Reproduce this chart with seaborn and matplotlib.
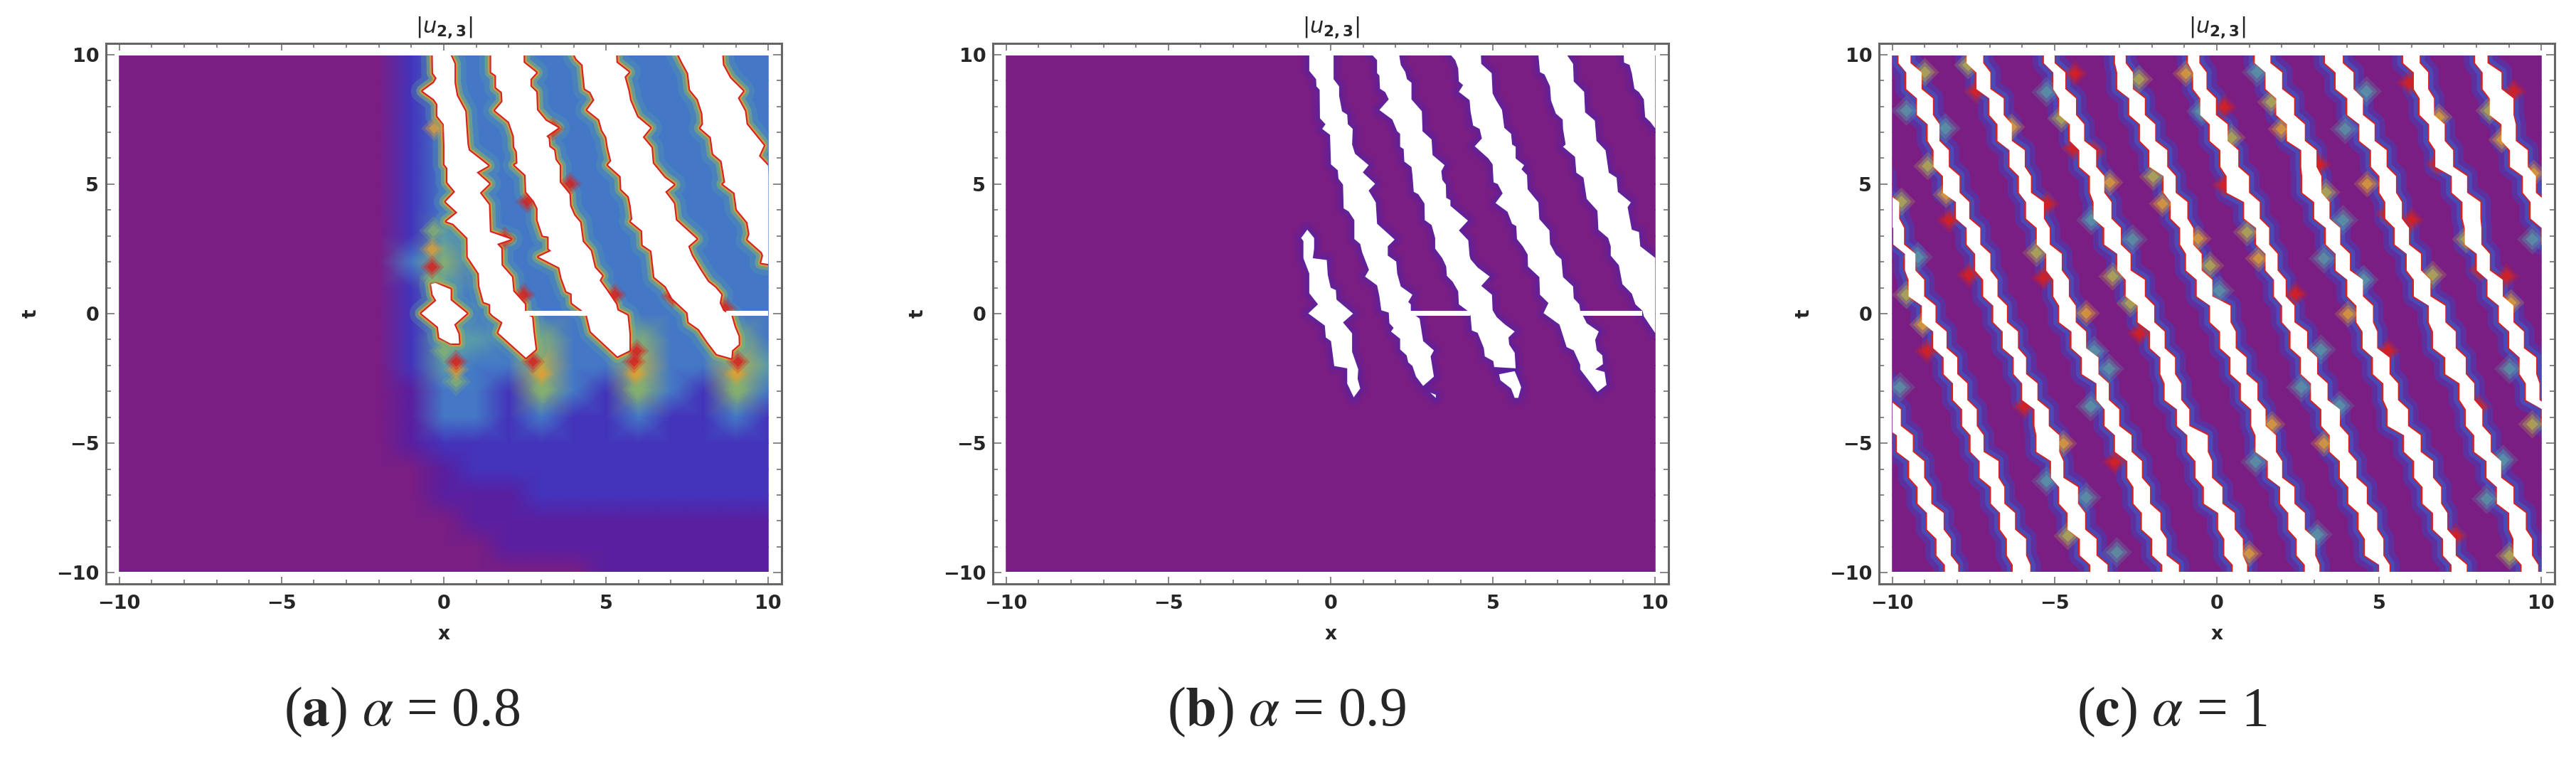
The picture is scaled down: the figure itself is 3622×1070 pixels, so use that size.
import numpy as np
import pandas as pd
import seaborn as sns
import matplotlib.pyplot as plt
from matplotlib.colors import LinearSegmentedColormap
from matplotlib.patches import Rectangle

# Colour levels of the density scale, purple up to red
level_colors = ["#7A1E84", "#5A1FA0", "#4234BC", "#4478C6", "#5A9BA8",
                "#86B070", "#B8B04C", "#E0A035", "#E0602A", "#D8201F"]

tick_values = [-10, -5, 0, 5, 10]
tick_labels = ["\u221210", "\u22125", "0", "5", "10"]

# Density levels on the grid t = 10..-10 (rows), x = -10..10 (columns)
field_a = ["000000000233333333333", "000000000233333333333", "000000000233333333333",
           "000000000233333333333", "000000000233333333333", "000000000233333333333",
           "000000000233333333333", "000000000243333333333", "000000000353333333333",
           "000000000243333333333", "000000000233333333333", "000000000244353353353",
           "000000000243363363364", "000000000133253253253", "000000000133232232232",
           "000000000122222222222", "000000000012222222222", "000000000011122222222",
           "000000000001111111111", "000000000000111111111", "000000000000000111111"]
field_flat = ["000000000000000000000"] * 21

# White gaps of panel a, (x, t) along their two sides
a1_left = [(-0.34, 10), (-0.33, 9.28), (-0.22, 9.09), (-0.30, 8.91), (-0.65, 8.59), (-0.30, 8.27),
           (-0.20, 8.09), (-0.20, 7.63), (0.0, 7.31), (0.02, 6.49), (0.02, 5.76), (0.11, 5.62),
           (0.11, 5.07), (0.35, 4.70), (0.06, 4.32), (0.42, 3.90), (0.08, 3.56), (0.29, 3.47),
           (0.73, 2.92), (0.74, 2.19), (1.08, 1.55), (1.10, 1.05), (1.23, 0.45), (1.43, 0.36),
           (1.43, 0.04), (1.51, -0.07), (1.81, -0.34), (1.68, -0.74), (2.53, -1.70)]
a1_right = [(0.20, 10), (0.33, 9.64), (0.33, 8.91), (0.40, 8.41), (0.66, 7.81), (0.69, 7.22),
            (0.73, 6.53), (0.77, 6.30), (1.37, 5.71), (1.01, 5.45), (1.40, 5.01), (1.11, 4.66),
            (1.39, 4.20), (1.42, 3.15), (2.06, 2.87), (1.64, 2.69), (1.77, 2.51), (1.78, 1.87),
            (2.10, 1.41), (2.14, 0.86), (2.50, 0.36), (2.50, 0.10), (2.61, -0.07), (2.72, -0.14),
            (2.76, -0.69), (2.83, -1.38)]
a2_left = [(1.46, 10), (1.46, 9.32), (1.61, 9.19), (1.61, 8.73), (1.79, 8.55), (1.81, 8.18),
           (1.58, 7.84), (2.01, 7.40), (2.16, 6.85), (2.17, 6.44), (2.25, 6.26), (2.27, 5.80),
           (2.18, 5.74), (2.52, 5.35), (2.54, 4.70), (2.78, 4.34), (2.89, 4.06), (2.89, 3.61),
           (3.05, 3.01), (3.23, 2.97), (3.23, 2.51), (3.31, 2.42), (2.92, 2.19), (3.56, 1.78),
           (3.63, 1.37), (3.78, 0.86), (3.94, 0.77), (3.95, 0.41), (4.25, 0.13), (4.41, -0.07),
           (4.53, -0.69), (5.35, -1.65)]
a2_right = [(2.46, 10), (2.46, 9.69), (2.85, 9.30), (2.67, 9.05), (2.67, 8.77), (2.85, 8.55),
            (2.87, 7.86), (3.14, 7.45), (3.52, 7.17), (3.16, 6.85), (3.23, 6.76), (3.25, 6.44),
            (3.40, 6.30), (3.44, 5.94), (3.57, 5.71), (3.57, 5.07), (3.87, 4.61), (3.89, 4.16),
            (4.02, 3.79), (4.20, 3.52), (4.28, 2.78), (4.53, 2.42), (4.65, 1.78), (4.88, 1.46),
            (4.80, 1.28), (5.04, 0.86), (5.31, 0.36), (5.35, 0.13), (5.66, -0.07), (5.72, -0.78),
            (5.72, -1.42)]
a3_left = [(4.02, 10), (4.09, 9.83), (4.28, 9.60), (4.30, 9.28), (4.35, 8.68), (4.52, 8.55),
           (4.64, 8.24), (4.42, 7.86), (4.79, 7.49), (4.88, 7.08), (5.01, 6.81), (5.06, 6.40),
           (5.16, 5.89), (5.06, 5.74), (5.45, 5.30), (5.47, 4.80), (5.70, 4.52), (5.76, 4.16),
           (5.81, 3.65), (5.76, 3.56), (6.11, 3.20), (6.13, 2.65), (6.40, 2.42), (6.49, 1.41),
           (6.84, 1.05), (7.04, 0.59), (7.51, 0.04), (7.55, -0.33), (7.86, -0.60), (8.13, -1.10),
           (8.41, -1.56), (8.86, -1.72)]
a3_right = [(5.31, 10), (5.32, 9.69), (5.70, 9.32), (5.57, 9.14), (5.69, 8.59), (5.74, 8.23),
            (5.96, 7.59), (6.36, 7.17), (6.13, 6.81), (6.40, 6.40), (6.44, 5.80), (6.80, 5.25),
            (7.09, 4.98), (6.82, 4.70), (7.09, 4.25), (7.15, 3.61), (7.79, 2.88), (7.53, 2.60),
            (7.64, 2.24), (7.90, 1.69), (8.14, 1.23), (8.37, 1.00), (8.55, 0.73), (8.50, 0.41),
            (8.61, 0.11), (8.86, -0.07), (8.96, -0.51), (9.08, -0.87), (9.09, -1.19), (8.88, -1.42)]
a4_left = [(7.23, 10), (7.35, 9.69), (7.53, 9.28), (7.59, 8.64), (7.83, 8.27), (7.97, 7.72),
           (7.99, 7.31), (7.91, 7.16), (8.23, 6.81), (8.30, 6.17), (8.56, 5.89), (8.67, 5.07),
           (8.60, 5.00), (8.96, 4.66), (9.03, 4.02), (9.36, 3.52), (9.42, 3.06), (9.36, 2.86),
           (9.80, 2.37), (9.84, 2.24), (9.78, 1.96), (10, 1.92)]
a4_right = [(8.58, 10), (8.60, 9.60), (8.82, 9.09), (9.22, 8.59), (9.06, 8.32), (9.28, 7.81),
            (9.33, 7.31), (9.86, 6.49), (9.71, 6.08), (9.99, 5.71), (10, 5.30)]
a_hole_left = [(-0.26, 1.18), (-0.39, 1.14), (-0.34, 0.73), (-0.23, 0.50), (-0.69, 0.01),
               (-0.18, -0.51), (-0.14, -0.92), (0.21, -1.15)]
a_hole_right = [(-0.26, 1.18), (0.21, 0.94), (0.21, 0.52), (0.71, 0.01), (0.32, -0.42),
                (0.45, -0.78), (0.47, -1.15)]
a_gaps = [(a1_left, a1_right), (a2_left, a2_right), (a3_left, a3_right), (a4_left, a4_right),
          (a_hole_left, a_hole_right)]
a_strips = [(2.5, 4.4), (8.7, 10)]
a_hot_red_x = [-0.37, 0.37, 1.86, 2.56, 3.87, 3.36, 2.45, 5.27, 5.94, 7.04, 8.65, 2.75, 5.85, 9.05]
a_hot_red_t = [1.82, -1.83, 2.92, 4.34, 5.02, 7.13, 0.73, 0.73, -1.42, 0.68, 0.22, -1.85, -1.85, -1.85]
a_hot_orange_x = [-0.30, -0.37, 0.37, 3.0, 5.9, 9.0]
a_hot_orange_t = [7.17, 2.50, -2.15, -2.3, -2.3, -2.3]
a_hot_green_x = [-0.33, 0.37, 0.0, -0.33, 3.05, 5.95, 9.05]
a_hot_green_t = [3.20, -2.60, -1.42, 1.41, -2.9, -2.9, -2.9]

# White gaps of panel b
b0_left = [(-0.72, 3.24), (-0.91, 2.92), (-0.84, 2.80), (-0.84, 2.14), (-0.66, 1.55), (-0.66, 0.79),
           (-0.39, 0.36), (-0.69, 0.01), (-0.18, -0.46), (-0.15, -0.92), (0.01, -1.06), (0.11, -2.02),
           (0.51, -2.11), (0.51, -2.70), (0.71, -3.23)]
b0_right = [(-0.51, 2.92), (-0.51, 2.51), (-0.55, 2.14), (-0.12, 2.07), (-0.09, 1.50), (0.0, 1.00),
            (0.16, 0.91), (0.18, 0.54), (0.69, 0.0), (0.38, -0.34), (0.66, -0.76), (0.66, -1.47),
            (0.85, -2.15), (0.83, -2.52), (0.91, -2.89)]
b1_left = [(-0.66, 10), (-0.66, 9.37), (-0.45, 9.05), (-0.44, 8.77), (-0.34, 8.64), (-0.33, 7.54),
           (-0.16, 7.31), (-0.26, 7.13), (-0.02, 6.90), (0.01, 5.76), (0.22, 5.53), (0.24, 5.21),
           (0.38, 4.98), (0.40, 4.06), (0.55, 3.95), (0.73, 3.61), (0.73, 2.88), (0.91, 2.69),
           (0.97, 2.37), (1.18, 1.69), (1.06, 1.43), (1.43, 1.09), (1.50, 0.68), (1.56, 0.13),
           (1.79, 0.04), (1.81, -0.37), (1.94, -0.55), (1.86, -0.69), (2.14, -0.97), (2.14, -1.38),
           (2.34, -1.61), (2.39, -1.88), (2.52, -2.02), (2.63, -2.43), (2.85, -2.79)]
b1_right = [(0.09, 10), (0.09, 9.05), (0.26, 8.77), (0.26, 8.41), (0.35, 7.81), (0.51, 7.68),
            (0.53, 7.31), (0.68, 7.13), (0.66, 6.53), (0.75, 6.17), (1.17, 5.73), (0.99, 5.45),
            (1.37, 5.01), (1.17, 4.75), (1.39, 4.29), (1.43, 3.47), (1.97, 2.86), (1.76, 2.60),
            (1.76, 2.24), (2.02, 2.01), (2.05, 1.55), (2.16, 1.05), (2.52, 0.73), (2.39, 0.45),
            (2.47, 0.36), (2.47, 0.11), (2.61, -0.07), (2.74, -0.19), (2.85, -1.06), (3.18, -1.42),
            (3.08, -1.65), (3.18, -2.43)]
b2_left = [(1.27, 10), (1.43, 9.78), (1.43, 9.28), (1.50, 9.19), (1.52, 8.68), (1.68, 8.55),
           (1.79, 8.27), (1.50, 7.86), (1.90, 7.49), (2.05, 7.04), (2.14, 6.94), (2.14, 6.44),
           (2.25, 6.35), (2.27, 5.87), (2.49, 5.66), (2.52, 5.35), (2.56, 4.70), (2.70, 4.61),
           (2.89, 4.25), (2.90, 3.61), (3.11, 3.42), (3.22, 2.92), (3.22, 2.51), (3.44, 2.14),
           (3.56, 1.82), (3.58, 1.46), (3.76, 1.23), (3.93, 0.86), (3.95, 0.36), (4.24, 0.09),
           (4.31, -0.07), (4.35, -0.65), (4.53, -0.74), (4.72, -1.33), (4.75, -1.65), (5.01, -1.83),
           (5.04, -2.06)]
b2_right = [(2.11, 10), (2.16, 9.60), (2.30, 9.32), (2.35, 9.05), (2.49, 8.91), (2.49, 8.27),
            (2.81, 7.81), (2.83, 7.04), (3.11, 6.72), (3.14, 6.12), (3.51, 5.73), (3.41, 5.50),
            (3.44, 5.16), (3.55, 4.98), (3.56, 4.47), (3.69, 4.38), (3.69, 4.16), (4.23, 3.59),
            (3.95, 3.21), (4.24, 2.83), (4.28, 2.24), (4.31, 2.10), (4.53, 1.78), (4.90, 1.43),
            (4.64, 1.07), (4.97, 0.73), (4.99, 0.13), (5.12, -0.14), (5.37, -0.42), (5.67, -0.69),
            (5.48, -0.92), (5.50, -1.19), (5.67, -1.51), (5.70, -2.11)]
b2_piece_left = [(5.67, -2.22), (5.19, -2.34), (5.23, -2.57), (5.56, -2.89), (5.67, -3.25)]
b2_piece_right = [(5.67, -2.22), (5.80, -2.61), (5.87, -2.84), (5.78, -3.25)]
b3_left = [(3.69, 10), (3.84, 9.78), (3.93, 9.46), (3.95, 8.96), (4.08, 8.82), (3.95, 8.56),
           (4.28, 8.24), (4.31, 7.81), (4.39, 7.26), (4.59, 7.13), (4.66, 6.76), (4.44, 6.46),
           (4.86, 5.99), (4.99, 5.76), (5.02, 5.07), (5.15, 5.00), (5.30, 4.64), (5.08, 4.27),
           (5.45, 3.93), (5.59, 3.47), (5.72, 3.38), (5.74, 2.88), (5.92, 2.60), (6.07, 2.28),
           (6.08, 1.82), (6.43, 1.41), (6.45, 0.73), (6.71, 0.41), (6.56, 0.02), (7.05, -0.42),
           (7.27, -1.29), (7.49, -1.42), (7.69, -1.97), (7.69, -2.15), (8.22, -3.02)]
b3_right = [(4.63, 10), (4.64, 9.64), (4.96, 9.28), (4.99, 8.50), (5.10, 8.23), (5.28, 7.86),
            (5.35, 7.17), (5.56, 6.94), (5.59, 6.53), (5.70, 6.44), (5.70, 5.99), (5.96, 5.73),
            (5.88, 5.57), (6.05, 5.35), (6.07, 4.80), (6.40, 4.29), (6.43, 3.65), (6.74, 3.21),
            (6.76, 2.69), (6.94, 2.28), (7.11, 2.10), (7.16, 1.41), (7.47, 1.05), (7.49, 0.59),
            (7.66, 0.36), (7.69, 0.11), (7.77, -0.07), (7.89, -0.37), (8.26, -0.69), (8.15, -1.01),
            (8.20, -1.42), (8.37, -1.61), (8.39, -1.95), (8.15, -2.15), (8.44, -2.25), (8.50, -2.75)]
b4_left = [(6.40, 10), (6.45, 9.32), (6.59, 9.23), (6.76, 8.77), (6.79, 8.23), (6.94, 7.72),
           (7.15, 7.49), (7.16, 7.13), (7.24, 6.53), (7.16, 6.44), (7.53, 6.05), (7.57, 5.44),
           (7.79, 5.25), (7.89, 4.43), (8.22, 3.97), (8.25, 3.24), (8.55, 2.92), (8.63, 2.60),
           (8.63, 2.24), (8.88, 1.87), (8.99, 1.14), (9.28, 0.77), (9.39, 0.36), (9.61, 0.11),
           (9.65, -0.10), (9.87, -0.51), (10, -0.75)]
b4_right = [(7.27, 10), (7.47, 9.64), (7.49, 8.96), (7.81, 8.56), (7.84, 7.77), (8.14, 7.45),
            (8.19, 6.67), (8.47, 6.30), (8.57, 5.44), (8.81, 5.25), (8.85, 4.70), (9.25, 4.29),
            (9.15, 4.11), (9.21, 3.70), (9.28, 3.24), (9.50, 3.15), (9.54, 2.60), (9.87, 2.28),
            (10, 2.15)]
b5_left = [(9.03, 10), (9.04, 9.69), (9.21, 9.60), (9.28, 9.28), (9.36, 8.68), (9.50, 8.55),
           (9.65, 8.27), (9.69, 7.59), (9.85, 7.40), (10, 7.15)]
b5_right = [(10, 10)]
b_speck_left = [(3.07, -3.05), (3.24, -3.25)]
b_speck_right = [(3.07, -3.05), (3.24, -3.13)]
b_gaps = [(b0_left, b0_right), (b1_left, b1_right), (b2_left, b2_right), (b2_piece_left, b2_piece_right),
          (b3_left, b3_right), (b4_left, b4_right), (b5_left, b5_right), (b_speck_left, b_speck_right)]
b_strips = [(2.47, 4.3), (7.7, 9.6)]

# White stripes of panel c, one left and one right x per row of t
c_t_rows = [10, 9, 8, 7, 6, 5, 4, 3, 2, 1, 0, -1, -2, -3, -4, -5, -6, -7, -8, -9, -10]
nan = float("nan")
cA_left = [-9.82, -9.58, -9.25, -8.92, -8.74, -8.45, -8.05, -7.72, -7.46, -7.21, -6.90,
           -6.61, -6.27, -6.01, -5.63, -5.57, -5.12, -4.87, -4.61, -4.23, -3.91]
cA_right = [-9.45, -9.11, -8.76, -8.56, -8.27, -7.94, -7.64, -7.30, -6.99, -6.77, -6.48,
            -6.14, -5.89, -5.54, -5.19, -4.87, -4.74, -4.29, -4.07, -3.72, -3.38]
cB_left = [-7.72, -7.42, -7.02, -6.77, -6.40, -6.11, -5.89, -5.56, -5.27, -5.05, -4.87,
           -4.49, -4.17, -3.72, -3.47, -3.15, -2.77, -2.58, -2.32, -2.00, -1.69]
cB_right = [-7.21, -6.99, -6.58, -6.33, -5.93, -5.74, -5.34, -5.16, -4.79, -4.57, -4.36,
            -4.04, -3.66, -3.34, -3.02, -2.64, -2.32, -2.07, -1.75, -1.56, -1.18]
cC_left = [-5.34, -5.05, -4.87, -4.54, -4.25, -3.92, -3.81, -3.48, -3.08, -2.82, -2.45,
           -2.07, -1.75, -1.62, -1.24, -0.92, -0.67, -0.41, 0.03, 0.22, 0.48]
cC_right = [-5.01, -4.68, -4.35, -4.10, -3.73, -3.48, -3.26, -2.97, -2.67, -2.23, -1.94,
            -1.62, -1.30, -1.11, -0.86, -0.29, -0.16, 0.16, 0.54, 0.79, 0.92]
cD_left = [-3.15, -3.08, -2.71, -2.38, -2.09, -1.65, -1.43, -1.14, -0.96, -0.63, -0.22,
           0.09, 0.41, 0.73, 1.05, 1.18, 1.56, 1.94, 2.19, 2.45, 2.70]
cD_right = [-2.82, -2.60, -2.23, -1.91, -1.54, -1.28, -0.92, -0.74, -0.48, -0.15, 0.41,
            0.57, 0.90, 1.24, 1.49, 1.81, 2.00, 2.38, 2.70, 3.02, 3.15]
cE_left = [-0.90, -0.74, -0.52, -0.23, 0.10, 0.29, 0.83, 1.20, 1.49, 1.75, 2.00,
           2.26, 2.58, 2.89, 3.21, 3.47, 3.78, 4.04, 4.36, 4.55, 4.99]
cE_right = [-0.55, -0.33, -0.04, 0.32, 0.65, 0.98, 1.31, 1.60, 1.86, 2.11, 2.38,
            2.77, 3.08, 3.40, 3.78, 4.04, 4.29, 4.61, 4.93, 5.12, 5.31]
cF_left = [1.16, 1.49, 1.82, 2.15, 2.59, 2.62, 2.99, 3.35, 3.65, 4.01, 4.29,
           4.48, 4.80, 5.12, 5.25, 5.76, 6.07, 6.33, 6.65, 6.96, 7.22]
cF_right = [1.64, 2.00, 2.37, 2.70, 3.06, 3.21, 3.46, 3.79, 4.09, 4.49, 4.80,
            4.93, 5.31, 5.57, 5.88, 6.27, 6.65, 6.90, 7.09, 7.35, 7.69]
cG_left = [3.32, 3.65, 4.01, 4.38, 4.74, 5.00, 5.18, 5.47, 5.84, 6.06, 6.52,
           6.65, 7.03, 7.47, 7.66, 7.92, 8.30, 8.62, 9.00, 9.13, 9.38]
cG_right = [3.87, 4.20, 4.49, 4.85, 5.22, 5.51, 5.69, 5.91, 6.28, 6.57, 7.03,
            7.35, 7.66, 7.92, 8.17, 8.43, 8.75, 9.13, 9.51, 9.70, 9.89]
cH_left = [5.73, 6.06, 6.24, 6.53, 6.72, 7.23, 7.56, 7.63, 8.00, 8.33, 8.68,
           9.00, 9.32, 9.51, 10.02, nan, nan, nan, nan, nan, nan]
cH_right = [6.24, 6.50, 6.68, 7.01, 7.27, 7.70, 8.11, 8.14, 8.40, 8.80, 9.13,
            9.45, 9.83, 9.93, 10.34, nan, nan, nan, nan, nan, nan]
cI_left = [7.95, 8.18, 8.40, 8.76, 9.02, 9.42, 9.66, 10.0, nan, nan, nan,
           nan, nan, nan, nan, nan, nan, nan, nan, nan, nan]
cI_right = [8.33, 8.76, 9.13, 9.20, 9.57, 9.82, 10.15, 10.3, nan, nan, nan,
            nan, nan, nan, nan, nan, nan, nan, nan, nan, nan]
cJ_left = [nan, nan, nan, nan, nan, -10.6, -10.4, -9.98, -9.62, -9.51, -9.10,
           -8.75, -8.43, -8.14, -7.86, -7.60, -7.32, -6.97, -6.69, -6.48, -6.30]
cJ_right = [nan, nan, nan, nan, nan, -10.2, -9.80, -9.65, -9.30, -9.03, -8.68,
            -8.34, -8.01, -7.70, -7.41, -7.20, -6.74, -6.56, -6.23, -5.89, -5.76]
cK_left = [nan, nan, nan, nan, nan, nan, nan, nan, nan, nan, nan,
           nan, nan, -10.6, -10.3, -9.87, -9.49, -9.23, -8.94, -8.65, -8.39]
cK_right = [nan, nan, nan, nan, nan, nan, nan, nan, nan, nan, nan,
            nan, nan, -10.1, -9.75, -9.38, -9.03, -8.81, -8.43, -8.21, -7.98]
c_stripes = [(cA_left, cA_right), (cB_left, cB_right), (cC_left, cC_right), (cD_left, cD_right),
             (cE_left, cE_right), (cF_left, cF_right), (cG_left, cG_right), (cH_left, cH_right),
             (cI_left, cI_right), (cJ_left, cJ_right), (cK_left, cK_right)]

# Hot spots beside the stripes of panel c
c_red_x = [-7.42, -4.39, -8.27, -4.43, -5.23, -5.34, -7.64, 0.21, -3.81, 0.21, 3.14, 5.99, 5.26, 5.91,
           9.13, 8.91, 2.40, 8.11, 6.79, -8.94, -5.95, -2.39, -3.15, 5.25, 8.05, 7.35]
c_red_t = [8.59, 9.28, 3.61, 6.40, 4.25, 1.41, 1.50, 8.0, 6.26, 4.98, 5.76, 3.61, 3.88, 8.91,
           8.59, 1.46, 0.77, 1.69, 5.80, -1.42, -3.57, -0.74, -5.72, -1.42, -3.57, -8.55]
c_orange_x = [-6.33, -8.34, -3.30, -0.96, -1.69, -0.59, 1.97, 6.83, 8.76, 9.75, 4.63, 1.27, 9.06,
              -9.07, -4.04, -4.74, 4.04, 3.28, 1.68, 0.99]
c_orange_t = [7.22, 4.61, 5.07, 9.28, 4.25, 2.92, 7.13, 7.59, 6.72, 5.44, 5.02, 2.14, 0.45,
              -0.42, 0.04, -5.0, 0.0, -5.0, -4.26, -9.24]
c_olive_x = [-9.0, -7.68, -8.92, -9.73, -9.58, -4.79, -5.56, -1.98, -3.22, -2.67, -2.42, 0.43, 1.67,
             3.35, 0.91, -0.23, 6.64, 7.67, 8.40, -4.61, 9.0, 9.70]
c_olive_t = [9.32, 9.60, 5.71, 4.34, 0.73, 7.54, 2.37, 5.30, 1.46, 0.41, 9.05, 6.81, 8.18,
             4.70, 3.15, 1.87, 1.50, 2.88, 7.86, -8.55, -9.33, -4.26]
c_teal_x = [-9.58, -8.38, -9.22, -5.27, -0.48, -2.60, -3.88, 1.23, 3.94, 4.60, 3.87, 3.28, 4.52, 9.71,
            0.07, -9.77, -3.34, -3.91, 3.21, 2.58, 3.78, 9.0, 8.81, 8.30, -4.04, -5.25, 1.18, 3.08,
            -3.09, -3.79]
c_teal_t = [7.86, 7.17, 2.19, 8.55, 7.81, 2.88, 3.61, 9.32, 7.13, 8.59, 3.61, 2.14, 1.32, 2.88,
            0.91, -2.84, -2.11, -3.57, -1.38, -2.84, -3.53, -2.11, -5.63, -7.14, -7.09, -6.45,
            -5.72, -8.51, -9.20, -1.42]

sns.set_theme(style="white")
plt.rcParams['font.family'] = ['DejaVu Sans']

W, H = 3622, 1070
rainbow = LinearSegmentedColormap.from_list("rainbow_like", level_colors)
frame_gray = "#666666"


def col(x):
    return np.asarray(x, dtype=float) + 10


def row(t):
    return 10 - np.asarray(t, dtype=float)


def clip(artists, ax):
    box = Rectangle((0, 0), 20, 20, transform=ax.transData)
    for a in artists:
        a.set_clip_path(box)


def draw_field(ax, rows):
    grid = pd.DataFrame([[int(c) for c in r] for r in rows], dtype=float)
    sns.heatmap(grid, cmap=rainbow, vmin=0, vmax=9, cbar=False, ax=ax,
                xticklabels=False, yticklabels=False, shading="gouraud")


def draw_edge(ax, x, t, layers):
    # wide translucent lines under the white gap make the glow round it
    for colour, lw, alpha in layers:
        lines = ax.plot(col(x), row(t), color=colour, lw=lw, alpha=alpha,
                        solid_joinstyle="round", zorder=3)
        clip(lines, ax)


def draw_spots(ax, x, t, colour, size, alpha):
    # three nested diamonds soften the rim of each spot
    for scale, fade in [(2.0, 0.25), (1.0, 0.4), (0.35, 0.7)]:
        n = len(ax.collections)
        sns.scatterplot(x=col(x), y=row(t), marker="D", s=size * scale, color=colour,
                        alpha=alpha * fade, linewidth=0, legend=False, ax=ax, zorder=4)
        clip(ax.collections[n:], ax)


def draw_gaps(ax, gaps, layers):
    for left, right in gaps:
        pts = left + right[::-1]
        px, pt = zip(*pts)
        px, pt = list(px) + [px[0]], list(pt) + [pt[0]]
        draw_edge(ax, px, pt, layers)
        ax.fill(col(px), row(pt), color="white", lw=0, zorder=5)


def draw_strips(ax, strips):
    for x0, x1 in strips:
        ax.fill_between(col([x0, x1]), row([0.10, 0.10]), row([-0.07, -0.07]),
                        color="white", lw=0, zorder=6)


def finish(ax, caption, caption_x):
    # white margin between the density area and the frame, hides the mesh's pale rim
    ax.fill_between([-0.41, 20.41], -0.43, 0.04, color="white", lw=0, zorder=7)
    ax.fill_between([-0.41, 20.41], 19.96, 20.43, color="white", lw=0, zorder=7)
    for s in ax.spines.values():
        s.set_visible(True)
        s.set_color(frame_gray)
        s.set_linewidth(2.2)
        s.set_zorder(10)
    ax.xaxis.set_zorder(10)
    ax.yaxis.set_zorder(10)
    ax.set_xlim(-0.41, 20.41)
    ax.set_ylim(20.43, -0.43)
    ax.set_xticks(col(tick_values))
    ax.set_xticklabels(tick_labels)
    ax.set_yticks(row(tick_values))
    ax.set_yticklabels(tick_labels)
    ax.set_xticks(np.arange(0, 21), minor=True)
    ax.set_yticks(np.arange(0, 21), minor=True)
    ax.tick_params(which="both", direction="in", top=True, right=True, bottom=True, left=True,
                   color=frame_gray, width=1.1)
    ax.tick_params(axis="x", which="major", length=7.2, pad=11, labelsize=19.5)
    ax.tick_params(axis="x", which="minor", length=4.3)
    ax.tick_params(axis="y", which="major", length=8.6, pad=7, labelsize=19.5)
    ax.tick_params(axis="y", which="minor", length=5)
    for lab in ax.get_xticklabels() + ax.get_yticklabels():
        lab.set_fontweight("bold")
    # seaborn hid the axis labels along with the heatmap tick labels
    ax.set_xlabel("x", fontsize=19, fontweight="bold", labelpad=12, visible=True)
    ax.set_ylabel("t", fontsize=19, fontweight="bold", labelpad=16, visible=True)
    ax.set_title(r"$|u_{\mathbf{2,3}}|$", fontsize=22, pad=10)
    ax.figure.text(caption_x / W, 1 - 1001 / H, caption, fontsize=56, ha="center", va="center",
                   family="Liberation Serif", math_fontfamily="stix")


fig = plt.figure(figsize=(W / 100, H / 100), dpi=100, facecolor="white")
lefts = [149, 1396, 2642]
axes = [fig.add_axes([x / W, 1 - 821 / H, 950 / W, 760 / H]) for x in lefts]

# panel a
ax = axes[0]
draw_field(ax, field_a)
draw_spots(ax, a_hot_green_x, a_hot_green_t, level_colors[5], 220, 0.9)
draw_spots(ax, a_hot_orange_x, a_hot_orange_t, level_colors[7], 170, 0.9)
draw_spots(ax, a_hot_red_x, a_hot_red_t, level_colors[9], 150, 1.0)
draw_gaps(ax, a_gaps, [("#5A9BA8", 24, 0.30), ("#86B070", 13, 0.55), ("#E0A035", 6.5, 0.75),
                       ("#D8201F", 3.0, 1.0)])
draw_strips(ax, a_strips)
finish(ax, "($\\mathbf{a}$) $\\alpha$ = 0.8", 565)

# panel b
ax = axes[1]
draw_field(ax, field_flat)
draw_gaps(ax, b_gaps, [("#5A1FA0", 16, 0.25), ("#4A24B0", 7, 0.35)])
draw_strips(ax, b_strips)
finish(ax, "($\\mathbf{b}$) $\\alpha$ = 0.9", 1809)

# panel c, each row of a stripe holds its x for a short run of t, as the jagged edges do
ax = axes[2]
draw_field(ax, field_flat)
c_t_jag = np.repeat(c_t_rows, 2) + np.tile([0.32, -0.32], len(c_t_rows))
c_layers = [("#3E48C0", 22, 0.45), ("#3E5CC6", 11, 0.55), ("#D8201F", 2.8, 1.0)]
for left, right in c_stripes:
    draw_edge(ax, np.repeat(left, 2), c_t_jag, c_layers)
    draw_edge(ax, np.repeat(right, 2), c_t_jag, c_layers)
draw_spots(ax, c_teal_x, c_teal_t, level_colors[4], 240, 0.95)
draw_spots(ax, c_olive_x, c_olive_t, level_colors[6], 210, 0.95)
draw_spots(ax, c_orange_x, c_orange_t, level_colors[7], 190, 1.0)
draw_spots(ax, c_red_x, c_red_t, level_colors[9], 170, 1.1)
for left, right in c_stripes:
    stripe = ax.fill_betweenx(row(c_t_jag), col(np.repeat(left, 2)), col(np.repeat(right, 2)),
                              color="white", lw=0, zorder=5)
    clip([stripe], ax)
finish(ax, "($\\mathbf{c}$) $\\alpha$ = 1", 3054)

fig.savefig("out.png", dpi=100, facecolor="white")
